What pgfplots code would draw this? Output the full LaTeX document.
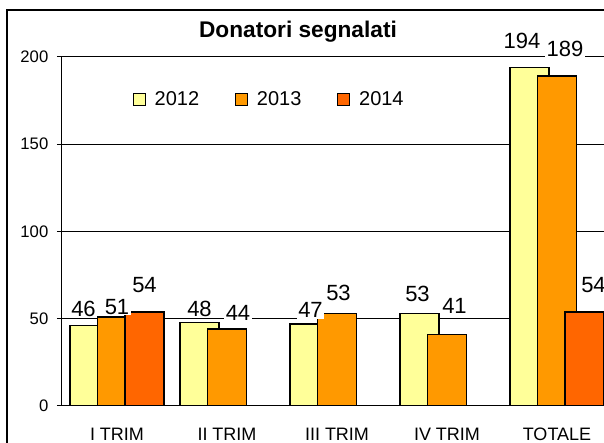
\documentclass[border=0pt]{standalone}
\usepackage{fontspec}
\setmainfont{Liberation Sans}
\usepackage{pgfplots}
\usepackage{pgfplotstable}
\pgfplotsset{compat=1.18}
\definecolor{c2012}{HTML}{FFFF99}
\definecolor{c2013}{HTML}{FF9900}
\definecolor{c2014}{HTML}{FF6600}
\pgfplotstableread{
x y dx dy
0 46 -6 9
1 48 0 6
2 47 1 6
3 53 -2 12
4 194 -7.5 19
}\tA
\pgfplotstableread{
x y dx dy
0 51 0 3
1 44 11 9
2 53 1.5 13
3 41 7.5 21
4 189 8 20
}\tB
\pgfplotstableread{
x y dx dy
0 54 0 19
4 54 9 19
}\tC
\begin{document}
\begin{tikzpicture}
\useasboundingbox (0pt,0pt) rectangle (453pt,332.25pt);
\clip (0pt,0pt) rectangle (453pt,332.25pt);
\draw[line width=0.8pt, black] (5.25pt,324.75pt) rectangle (480pt,-20pt);
\begin{axis}[
  at={(46.5pt,27.75pt)}, anchor=south west,
  scale only axis, width=412.5pt, height=261.75pt,
  xmin=-0.5, xmax=4.5, ymin=0, ymax=200,
  axis lines*=left, axis line style={-, line width=0.75pt},
  ytick={0,50,100,150,200},
  ymajorgrids, grid style={black, line width=0.75pt},
  tick align=outside, major tick length=3.75pt, minor tick length=3.75pt,
  tick style={black, line width=0.75pt},
  xtick={0,1,2,3,4},
  xticklabels={I TRIM, II TRIM, III TRIM, IV TRIM, TOTALE},
  minor xtick={0.5,1.5,2.5,3.5,4.5},
  xtick style={draw=none},
  minor tick style={draw=black, line width=0.75pt},
  xticklabel style={font=\fontsize{13.5}{16}\selectfont, anchor=base, yshift=-22pt},
  yticklabel style={font=\fontsize{12.5}{14}\selectfont, xshift=-3pt},
  /pgf/number format/assume math mode=true,
  ybar, bar width=29.25pt,
  nodes near coords,
  every node near coord/.append style={font=\fontsize{16.5}{18}\selectfont, anchor=base,
     xshift=\dx*0.75pt, yshift=\dy*0.75pt, fill=white, inner xsep=1pt, inner ysep=0.5pt, text=black},
  visualization depends on={\thisrow{dx} \as \dx},
  visualization depends on={\thisrow{dy} \as \dy},
  legend columns=3,
  legend image code/.code={\draw[#1, draw=black, line width=0.8pt] (0pt,-4.5pt) rectangle (9pt,4.5pt);},
  legend style={at={(0.129,0.877)}, anchor=west, draw=none, fill=none, inner sep=0pt, outer sep=0pt,
     font=\fontsize{15}{18}\selectfont,
     /tikz/every odd column/.append style={column sep=4.5pt},
     /tikz/every even column/.append style={column sep=25pt}},
]
\addplot[fill=c2012, draw=black, line width=1.1pt, bar shift=-20.625pt] table[x=x,y=y] {\tA};
\addplot[fill=c2013, draw=black, line width=1.1pt, bar shift=0pt] table[x=x,y=y] {\tB};
\addplot[fill=c2014, draw=black, line width=1.1pt, bar shift=20.625pt] table[x=x,y=y] {\tC};
\legend{2012,2013,2014}
\end{axis}
\node[font=\bfseries\fontsize{17}{19}\selectfont, anchor=base] at (223.5pt,303.75pt) {Donatori segnalati};
\end{tikzpicture}
\end{document}
